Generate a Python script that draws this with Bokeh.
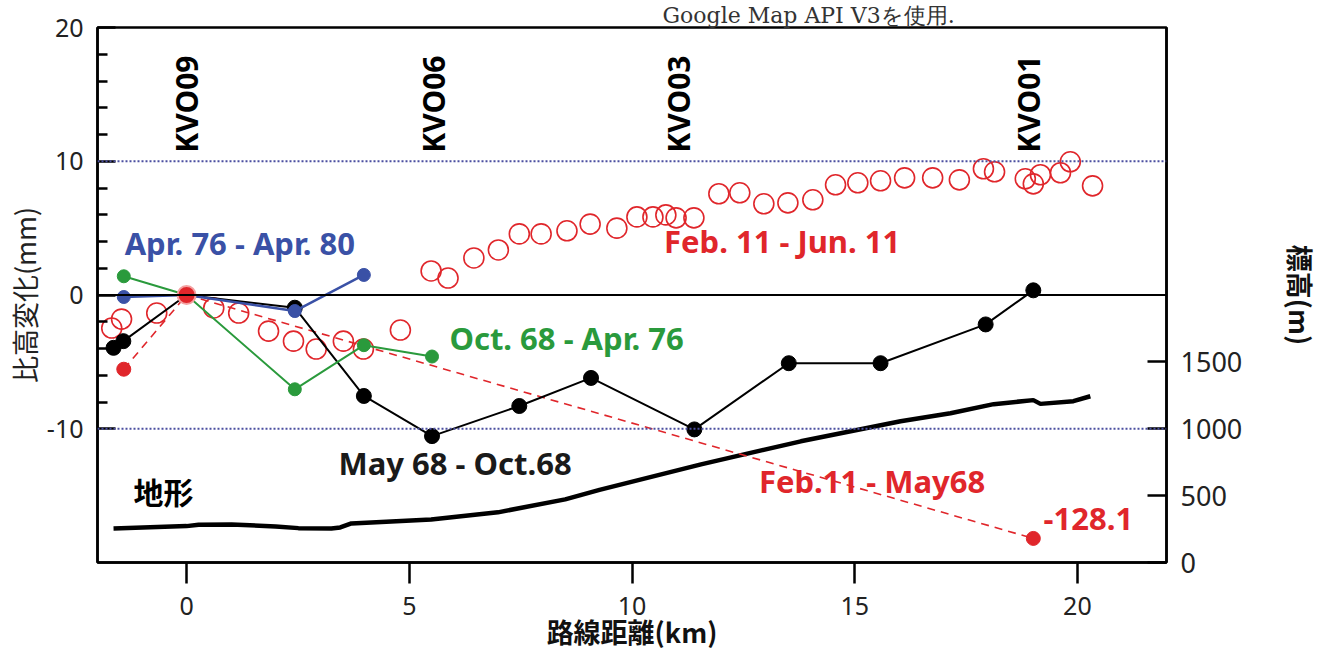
import math
from bokeh.plotting import figure
from bokeh.models import Range1d, LinearAxis, FixedTicker, Label, Span
from bokeh.embed import file_html
from bokeh.resources import INLINE

# ---------------- data ----------------
# Apr. 76 - Apr. 80 (blue)
x_blue = [-1.41, 0.0, 2.43, 3.98]
y_blue = [-0.15, 0.0, -1.2, 1.5]

# May 68 - Oct.68 (black)
x_black = [-1.64, -1.42, 0.0, 2.43, 3.98, 5.51, 7.47, 9.08, 11.4, 13.52, 15.58, 17.94, 19.01]
y_black = [-3.95, -3.45, 0.0, -0.95, -7.55, -10.55, -8.3, -6.2, -10.05, -5.1, -5.1, -2.2, 0.35]

# Oct. 68 - Apr. 76 (green)
x_green = [-1.41, 0.0, 2.43, 3.98, 5.51]
y_green = [1.4, 0.0, -7.05, -3.75, -4.6]

# Feb.11 - May68 (red dashed); last point is off-scale (-128.1 mm), drawn at the bottom
x_red_may = [-1.41, 0.0, 19.01]
y_red_may = [-5.55, 0.0, -18.2]
off_scale_text = "-128.1"

# Feb. 11 - Jun. 11 (red open circles)
x_red_jun = [-1.68, -1.46, -0.67, 0.61, 1.17, 1.84, 2.40, 2.91, 3.52, 3.97, 4.80,
             5.49, 5.87, 6.45, 7.0, 7.47, 7.96, 8.54, 9.06, 9.66, 10.11, 10.47, 10.76, 10.99, 11.39,
             11.95, 12.42, 12.96, 13.5, 14.06, 14.57, 15.07, 15.58, 16.12, 16.75, 17.35, 17.89, 18.14,
             18.83, 19.01, 19.17, 19.62, 19.84, 20.34]
y_red_jun = [-2.47, -1.8, -1.35, -0.97, -1.35, -2.7, -3.45, -4.04, -3.45, -4.04, -2.62,
             1.8, 1.27, 2.77, 3.37, 4.57, 4.57, 4.8, 5.3, 5.0, 5.84, 5.84, 5.99, 5.77, 5.77,
             7.57, 7.64, 6.82, 6.89, 7.12, 8.24, 8.39, 8.54, 8.76, 8.76, 8.61, 9.44, 9.21,
             8.69, 8.31, 8.99, 9.14, 9.96, 8.16]

# Terrain (elevation, m)
x_terrain = [-1.64, 0.0, 0.27, 1.01, 2.0, 2.51, 3.25, 3.45, 3.70, 5.49, 6.99, 8.50, 9.27,
             11.55, 13.79, 16.03, 17.15, 18.12, 19.01, 19.17, 19.91, 20.29]
elev_terrain = [255, 272, 283, 285, 270, 257, 255, 262, 292, 322, 375, 472, 543,
                734, 906, 1056, 1116, 1184, 1214, 1186, 1206, 1243]

# Stations
station_names = ["KVO09", "KVO06", "KVO03", "KVO01"]
station_x = [0.0, 5.55, 11.05, 18.9]

left_ticks = [20, 10, 0, -10]
left_minor = [18, 16, 14, 12, 8, 6, 4, 2, -2, -4, -6, -8]
bottom_ticks = [0, 5, 10, 15, 20]
right_ticks = [0, 500, 1000, 1500]

RED = "#e0262b"
BLUE = "#3a51a6"
GREEN = "#2a9a3c"
DOT = "#4b4fa0"
NUM_FONT = "Noto Sans"
CJK = "Noto Sans CJK JP"

p = figure(frame_width=1069, frame_height=535, output_backend="svg", toolbar_location=None,
           x_range=Range1d(-2, 22), y_range=Range1d(-20, 20),
           min_border_left=97, min_border_right=145, min_border_top=26, min_border_bottom=83)
p.xgrid.visible = False
p.ygrid.visible = False
p.outline_line_color = "black"
p.outline_line_width = 2.5
p.background_fill_color = "white"
p.border_fill_color = "white"

# top note
p.title.text = "Google Map API V3を使用."
p.title.text_font = "DejaVu Serif"
p.title.text_font_size = "22px"
p.title.text_font_style = "normal"
p.title.text_color = "#333333"
p.title.align = "left"
p.title.offset = 565
p.title.standoff = 0

p.extra_y_ranges = {"elev": Range1d(0, 4000)}

# left axis
ya = p.yaxis[0]
ya.ticker = FixedTicker(ticks=left_ticks, minor_ticks=left_minor)
ya.major_label_overrides = {t: str(t) for t in left_ticks}
ya.major_tick_in = 18
ya.major_tick_out = 0
ya.minor_tick_in = 10
ya.minor_tick_out = 0
ya.major_tick_line_width = 2.5
ya.minor_tick_line_width = 2.5
ya.axis_line_width = 2.5
ya.major_label_standoff = 14
ya.major_label_text_font = NUM_FONT
ya.major_label_text_font_size = "25px"
ya.major_label_text_color = "#222222"
ya.axis_label = "比高変化(mm)"
ya.axis_label_text_font = CJK
ya.axis_label_text_font_size = "27px"
ya.axis_label_text_font_style = "normal"
ya.axis_label_text_color = "#222222"
ya.axis_label_standoff = 0

# bottom axis
xa = p.xaxis[0]
xa.ticker = FixedTicker(ticks=bottom_ticks)
xa.major_tick_in = 0
xa.major_tick_out = 21
xa.minor_tick_line_color = None
xa.major_tick_line_width = 2.5
xa.axis_line_width = 2.5
xa.major_label_standoff = 13
xa.major_label_text_font = NUM_FONT
xa.major_label_text_font_size = "25px"
xa.major_label_text_color = "#222222"
xa.axis_label = "路線距離(km)"
xa.axis_label_text_font = CJK
xa.axis_label_text_font_size = "27px"
xa.axis_label_text_font_style = "bold"
xa.axis_label_text_color = "#111111"
xa.axis_label_standoff = -6

# right axis (elevation)
ra = LinearAxis(y_range_name="elev")
ra.ticker = FixedTicker(ticks=right_ticks)
ra.major_tick_in = 19
ra.major_tick_out = 0
ra.minor_tick_line_color = None
ra.major_tick_line_width = 2.5
ra.axis_line_width = 2.5
ra.major_label_standoff = 14
ra.major_label_text_font = NUM_FONT
ra.major_label_text_font_size = "27px"
ra.major_label_text_color = "#222222"
ra.major_label_text_baseline = "bottom"
ra.axis_label = "標高(m)"
ra.axis_label_text_font = CJK
ra.axis_label_text_font_size = "27px"
ra.axis_label_text_font_style = "bold"
ra.axis_label_text_color = "#111111"
ra.axis_label_standoff = 36
p.add_layout(ra, "right")

# reference lines
p.add_layout(Span(location=10, dimension="width", line_color=DOT, line_width=2, line_dash="2 2"))
p.add_layout(Span(location=-10, dimension="width", line_color=DOT, line_width=2, line_dash="2 2"))
p.add_layout(Span(location=0, dimension="width", line_color="black", line_width=2))

# terrain
p.line(x_terrain, elev_terrain, y_range_name="elev", line_color="black", line_width=4.5)

# red open circles
p.scatter(x_red_jun, y_red_jun, marker="circle", size=20, fill_color=None,
          line_color=RED, line_width=1.6)

# red dashed
p.line(x_red_may, y_red_may, line_color=RED, line_width=1.6, line_dash="8 6")

# black
p.line(x_black, y_black, line_color="black", line_width=2)
p.scatter(x_black, y_black, marker="circle", size=15, fill_color="black", line_color="black")

# green
p.line(x_green, y_green, line_color=GREEN, line_width=2)
p.scatter(x_green, y_green, marker="circle", size=13, fill_color=GREEN, line_color=GREEN)

# blue
p.line(x_blue, y_blue, line_color=BLUE, line_width=2.5)
p.scatter(x_blue, y_blue, marker="circle", size=13, fill_color=BLUE, line_color=BLUE)

# red filled
p.scatter(x_red_may, y_red_may, marker="circle", size=14, fill_color=RED, line_color=RED)
p.scatter([x_red_may[1]], [y_red_may[1]], marker="circle", size=18, fill_color=RED,
          line_color="#f4a0a0", line_width=2)

# station labels
for name, sx in zip(station_names, station_x):
    p.add_layout(Label(x=sx, y=10.64, text=name, angle=math.pi / 2, text_align="left",
                       text_baseline="middle", text_font=NUM_FONT,
                       text_font_style="bold", text_font_size="30px", text_color="black"))

def lab(x, y, text, color, size="31px", font=NUM_FONT, style="bold"):
    p.add_layout(Label(x=x, y=y, text=text, text_color=color, text_font=font,
                       text_font_size=size, text_font_style=style, text_align="left",
                       text_baseline="middle"))

lab(-1.39, 3.9, "Apr. 76 - Apr. 80", BLUE)
lab(10.72, 4.04, "Feb. 11 - Jun. 11", RED)
lab(5.9, -3.22, "Oct. 68 - Apr. 76", GREEN)
lab(3.41, -12.58, "May 68 - Oct.68", "#1a1a1a")
lab(12.85, -13.93, "Feb.11 - May68", RED)
lab(19.24, -16.78, off_scale_text, RED)
lab(-1.19, -14.68, "地形", "black", size="30px", font=CJK)

open("out.html", "w").write(file_html(p, INLINE))
